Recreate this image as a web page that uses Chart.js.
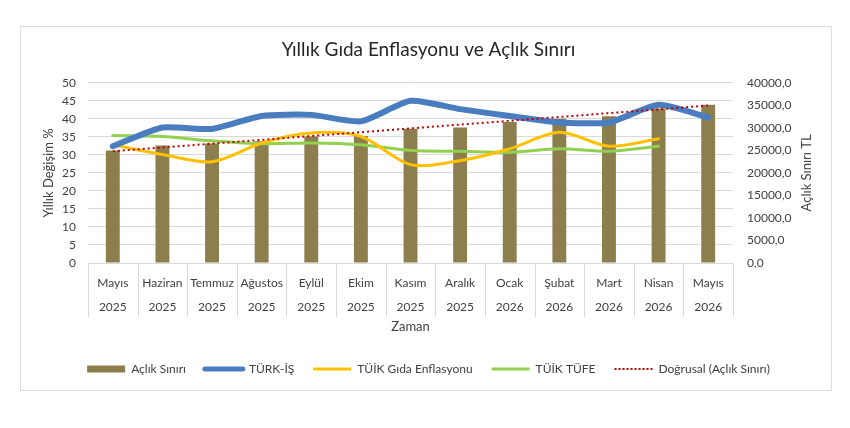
<!DOCTYPE html>
<html lang="tr">
<head>
<meta charset="utf-8">
<title>Yıllık Gıda Enflasyonu ve Açlık Sınırı</title>
<script src="https://cdn.jsdelivr.net/npm/chart.js@4.4.1/dist/chart.umd.min.js"></script>
<style>
  html, body { margin: 0; padding: 0; background: #fff; }
  #wrap { position: relative; width: 850px; height: 428px; }
  #frame {
    position: absolute; left: 20px; top: 26px; width: 812px; height: 365px;
    border: 1px solid #dcdcdc; box-sizing: border-box;
  }
  #chart { position: absolute; left: 0; top: 0; }
</style>
</head>
<body>
<div id="wrap">
  <div id="frame"></div>
  <canvas id="chart" width="850" height="428"></canvas>
</div>
<script>
// Categories (month / year, two-line labels)
const months = ["Mayıs", "Haziran", "Temmuz", "Ağustos", "Eylül", "Ekim", "Kasım",
  "Aralık", "Ocak", "Şubat", "Mart", "Nisan", "Mayıs"];
const years = ["2025", "2025", "2025", "2025", "2025", "2025", "2025",
  "2025", "2026", "2026", "2026", "2026", "2026"];

// Açlık sınırı, TL (right axis)
const aclikSiniri = [25000, 26100, 26500, 27000, 28100, 28200, 29800,
  30100, 31300, 32000, 32600, 34300, 35100];

// Yıllık değişim %, left axis
const turkIs = [32.4, 37.6, 37.2, 40.8, 41.1, 39.3, 45.0, 42.7, 40.8, 39.0, 39.0, 43.9, 40.4];
const tuikGida = [32.8, 30.1, 28.1, 33.3, 36.1, 35.1, 27.3, 28.4, 31.7, 36.3, 32.4, 34.5, null];
const tuikTufe = [35.4, 35.1, 33.9, 33.1, 33.3, 32.8, 31.2, 31.0, 30.7, 31.7, 31.0, 32.4, null];

// Doğrusal eğilim (Açlık Sınırı), read at both ends
const trendLine = [24800, null, null, null, null, null, null, null, null, null, null, null, 34950];

// Axis ticks
const leftTicks = { min: 0, max: 50, step: 5 };
const rightTicks = { min: 0, max: 40000, step: 5000 };

const FONT = "Lato, 'Open Sans', sans-serif";
const TXT = "#404040";
const GRID = "#d9d9d9";

const labels = months.map((m, i) => [m, years[i]]);

// vertical table lines under the category axis
const tableLines = {
  id: "tableLines",
  afterDraw(chart) {
    const x = chart.scales.x;
    const area = chart.chartArea;
    const ctx = chart.ctx;
    const half = (x.getPixelForValue(1) - x.getPixelForValue(0)) / 2;
    ctx.save();
    ctx.strokeStyle = GRID;
    ctx.lineWidth = 1;
    for (let i = 0; i <= months.length; i++) {
      const px = Math.round(x.getPixelForValue(i) - half) + 0.5;
      ctx.beginPath();
      ctx.moveTo(px, area.bottom);
      ctx.lineTo(px, area.bottom + 54);
      ctx.stroke();
    }
    ctx.restore();
  }
};

// right axis title, reads bottom to top
const rightTitle = {
  id: "rightTitle",
  afterDraw(chart) {
    const area = chart.chartArea;
    const ctx = chart.ctx;
    ctx.save();
    ctx.translate(807, (area.top + area.bottom) / 2);
    ctx.rotate(-Math.PI / 2);
    ctx.font = "13px " + FONT;
    ctx.fillStyle = TXT;
    ctx.textAlign = "center";
    ctx.textBaseline = "middle";
    ctx.fillText("Açlık Sınırı TL", 0, 0);
    ctx.restore();
  }
};

new Chart(document.getElementById("chart"), {
  type: "bar",
  data: {
    labels: labels,
    datasets: [
      {
        label: "Açlık Sınırı",
        data: aclikSiniri,
        yAxisID: "y1",
        backgroundColor: "#8c7f4d",
        barPercentage: 0.28,
        categoryPercentage: 1,
        order: 5
      },
      {
        type: "line",
        label: "TÜRK-İŞ",
        data: turkIs,
        yAxisID: "y",
        borderColor: "#4a7dbf",
        borderWidth: 6,
        borderCapStyle: "round",
        tension: 0.2,
        pointRadius: 0,
        order: 2
      },
      {
        type: "line",
        label: "TÜİK Gıda Enflasyonu",
        data: tuikGida,
        yAxisID: "y",
        borderColor: "#ffc000",
        borderWidth: 3,
        borderCapStyle: "round",
        tension: 0.3,
        pointRadius: 0,
        order: 3
      },
      {
        type: "line",
        label: "TÜİK TÜFE",
        data: tuikTufe,
        yAxisID: "y",
        borderColor: "#92d050",
        borderWidth: 3,
        borderCapStyle: "round",
        tension: 0.3,
        pointRadius: 0,
        order: 4
      },
      {
        type: "line",
        label: "Doğrusal (Açlık Sınırı)",
        data: trendLine,
        yAxisID: "y1",
        spanGaps: true,
        borderColor: "#c00000",
        borderWidth: 2,
        borderDash: [2, 3],
        pointRadius: 0,
        order: 1
      }
    ]
  },
  plugins: [tableLines, rightTitle],
  options: {
    responsive: false,
    animation: false,
    layout: { padding: { left: 37, right: 30, top: 0, bottom: 43 } },
    plugins: {
      title: {
        display: true,
        text: "Yıllık Gıda Enflasyonu ve Açlık Sınırı",
        color: "#262626",
        font: { family: FONT, size: 19, weight: "normal" },
        padding: { top: 38, bottom: 22 }
      },
      tooltip: { enabled: false },
      legend: {
        position: "bottom",
        labels: {
          usePointStyle: true,
          pointStyleWidth: 38,
          boxHeight: 7,
          padding: 19,
          color: TXT,
          font: { family: FONT, size: 12 },
          generateLabels: function (chart) {
            return chart.data.datasets.map(function (ds, i) {
              const isBar = i === 0;
              return {
                text: ds.label,
                fillStyle: isBar ? ds.backgroundColor : ds.borderColor,
                strokeStyle: isBar ? ds.backgroundColor : ds.borderColor,
                lineWidth: isBar ? 0 : (i === 1 ? 5 : (i === 4 ? 2 : 3)),
                lineCap: i === 1 ? "round" : "butt",
                lineDash: i === 4 ? [2, 2] : [],
                pointStyle: isBar ? "rect" : "line",
                fontColor: TXT,
                hidden: false,
                datasetIndex: i
              };
            });
          }
        }
      }
    },
    scales: {
      x: {
        grid: { display: false },
        border: { display: false },
        ticks: {
          autoSkip: false,
          maxRotation: 0,
          padding: 0,
          color: TXT,
          font: { family: FONT, size: 12, lineHeight: 2 }
        },
        title: {
          display: true,
          text: "Zaman",
          color: TXT,
          font: { family: FONT, size: 13 },
          padding: { top: 0, bottom: 9 }
        },
        afterFit: function (s) { s.height = 81; }
      },
      y: {
        position: "left",
        min: leftTicks.min,
        max: leftTicks.max,
        ticks: {
          stepSize: leftTicks.step,
          autoSkip: false,
          padding: 12,
          color: TXT,
          font: { family: FONT, size: 12 }
        },
        grid: { color: GRID, drawTicks: false },
        border: { display: false },
        title: {
          display: true,
          text: "Yıllık Değişim %",
          color: TXT,
          font: { family: FONT, size: 13 }
        },
        afterFit: function (s) { s.width = 51; }
      },
      y1: {
        position: "right",
        min: rightTicks.min,
        max: rightTicks.max,
        ticks: {
          stepSize: rightTicks.step,
          autoSkip: false,
          padding: 14,
          color: TXT,
          font: { family: FONT, size: 12 },
          callback: function (v) { return v + ",0"; }
        },
        grid: { drawOnChartArea: false, drawTicks: false },
        border: { display: false },
        afterFit: function (s) { s.width = 87; }
      }
    }
  }
});
</script>
</body>
</html>
